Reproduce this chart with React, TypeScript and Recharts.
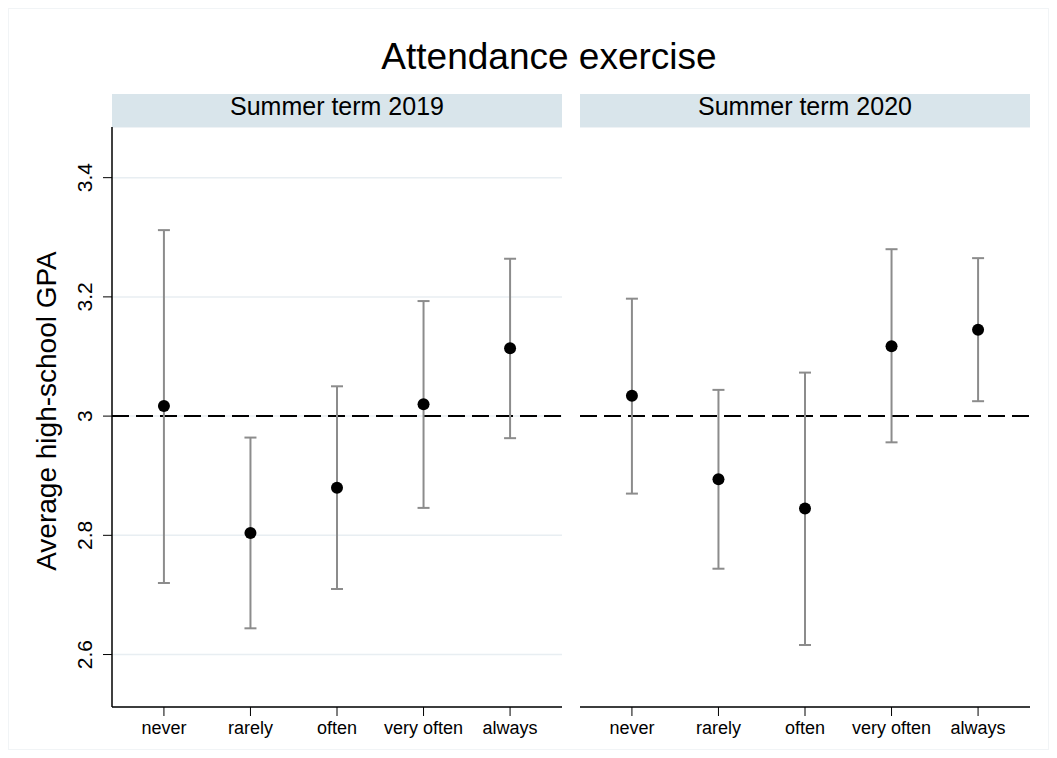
import {
  ScatterChart,
  Scatter,
  XAxis,
  YAxis,
  CartesianGrid,
  ErrorBar,
  ReferenceLine,
} from "recharts";

const categories = ["never", "rarely", "often", "very often", "always"];

const mean2019 = [3.017, 2.804, 2.88, 3.02, 3.114];
const lo2019 = [2.72, 2.644, 2.71, 2.846, 2.963];
const hi2019 = [3.312, 2.964, 3.05, 3.193, 3.264];

const mean2020 = [3.034, 2.894, 2.845, 3.117, 3.145];
const lo2020 = [2.87, 2.744, 2.616, 2.956, 3.025];
const hi2020 = [3.197, 3.044, 3.073, 3.28, 3.265];

const yTicks = [2.6, 2.8, 3, 3.2, 3.4];
const yDomain = [2.512, 3.485];

const FONT = '"Liberation Sans", Arial, Helvetica, sans-serif';

function build(mean: number[], lo: number[], hi: number[]) {
  return categories.map((c, i) => ({
    x: i + 1,
    name: c,
    mean: mean[i],
    err: [mean[i] - lo[i], hi[i] - mean[i]],
  }));
}

const data2019 = build(mean2019, lo2019, hi2019);
const data2020 = build(mean2020, lo2020, hi2020);

const Dot = (props: any) => <circle cx={props.cx} cy={props.cy} r={6} fill="#000" />;

const YTick = ({ x, y, payload }: any) => (
  <text
    x={x}
    y={y}
    transform={`rotate(-90 ${x} ${y})`}
    textAnchor="middle"
    fontSize={21}
    fontFamily={FONT}
    fill="#000"
  >
    {String(payload.value)}
  </text>
);

function Panel({ data, showY }: { data: any[]; showY: boolean }) {
  const width = showY ? 560 : 481;
  const margin = showY
    ? { top: 118, right: 7, bottom: 0, left: 43 }
    : { top: 118, right: 20, bottom: 0, left: 11 };
  return (
    <ScatterChart width={width} height={742} margin={margin}>
      <CartesianGrid
        horizontal
        vertical={false}
        stroke="#e8eef2"
        strokeWidth={1.5}
      />
      <XAxis
        type="number"
        dataKey="x"
        domain={[0.4, 5.6]}
        ticks={[1, 2, 3, 4, 5]}
        tickFormatter={(v: number) => categories[v - 1]}
        height={44}
        tickSize={9}
        tickMargin={5}
        stroke="#000"
        axisLine={{ stroke: "#000", strokeWidth: 1.5 }}
        tick={{ fill: "#000", fontSize: 18, fontFamily: FONT }}
        allowDataOverflow
      />
      {showY ? (
        <YAxis
          type="number"
          dataKey="mean"
          domain={yDomain}
          ticks={yTicks}
          allowDataOverflow
          width={60}
          tickSize={9}
          tickMargin={11}
          stroke="#000"
          axisLine={{ stroke: "#000", strokeWidth: 1.5 }}
          tick={<YTick />}
        />
      ) : (
        <YAxis
          type="number"
          dataKey="mean"
          domain={yDomain}
          ticks={yTicks}
          allowDataOverflow
          width={0}
          axisLine={false}
          tickLine={false}
          tick={false}
        />
      )}
      <ReferenceLine
        y={3}
        stroke="#000"
        strokeWidth={2}
        strokeDasharray="17 7"
      />
      <Scatter data={data} dataKey="mean" shape={Dot} isAnimationActive={false}>
        <ErrorBar
          dataKey="err"
          direction="y"
          width={6}
          stroke="#8c8c8c"
          strokeWidth={2}
          isAnimationActive={false}
        />
      </Scatter>
    </ScatterChart>
  );
}

const stripStyle = (left: number): React.CSSProperties => ({
  position: "absolute",
  left,
  top: 85,
  width: 450,
  height: 33,
  background: "#d9e5eb",
  textAlign: "center",
  fontSize: 25,
  lineHeight: "25px",
  fontFamily: FONT,
  color: "#000",
});

export default function App() {
  return (
    <div
      style={{
        position: "relative",
        width: 1041,
        height: 742,
        boxSizing: "border-box",
        border: "1px solid #f1f4f6",
        background: "#fff",
        fontFamily: FONT,
      }}
    >
      <div
        style={{
          position: "absolute",
          left: 540,
          top: 29,
          transform: "translateX(-50%)",
          fontSize: 37,
          lineHeight: "37px",
          whiteSpace: "nowrap",
          color: "#000",
        }}
      >
        Attendance exercise
      </div>
      <div style={{ position: "absolute", left: 0, top: 0 }}>
        <Panel data={data2019} showY />
      </div>
      <div style={{ position: "absolute", left: 560, top: 0 }}>
        <Panel data={data2020} showY={false} />
      </div>
      <div style={stripStyle(103)}>Summer term 2019</div>
      <div style={stripStyle(571)}>Summer term 2020</div>
      <div
        style={{
          position: "absolute",
          left: 38,
          top: 402,
          transform: "translate(-50%, -50%) rotate(-90deg)",
          fontSize: 28,
          lineHeight: "28px",
          whiteSpace: "nowrap",
          color: "#000",
        }}
      >
        Average high-school GPA
      </div>
    </div>
  );
}
